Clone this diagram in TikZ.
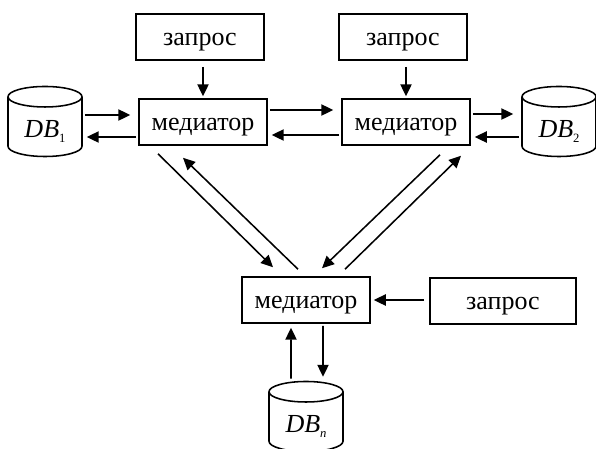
\documentclass[tikz,border=0pt]{standalone}
\usepackage{fontspec}
\setmainfont{Liberation Serif}
\usetikzlibrary{arrows.meta,shapes.geometric,calc}
\newcommand{\dbname}[1]{\textit{DB}\raisebox{-0.45ex}{\fontsize{9}{9}\selectfont #1}}

\begin{document}
\begin{tikzpicture}
  [x=0.025cm,y=-0.025cm,line width=1.1pt,>={Triangle[length=8.5pt,width=8pt]},
   every node/.style={font=\fontsize{18.5}{20}\selectfont,line width=1.1pt},
   box/.style={draw,rectangle,minimum width=3.2cm,minimum height=1.15cm,inner sep=0pt,text height=11.4pt,text depth=0pt},
   db/.style={draw,cylinder,shape border rotate=90,aspect=0.5,minimum width=1.85cm,minimum height=1.75cm,inner sep=0pt,text height=15pt,text depth=0pt}]
  \useasboundingbox (0,0) rectangle (596,448);
  \node[box] (q1) at (200,37) {запрос};
  \node[box] (q2) at (403,37) {запрос};
  \node[box] (m1) at (203,122) {медиатор};
  \node[box] (m2) at (406,122) {медиатор};
  \node[box] (m3) at (306,300) {медиатор};
  \node[box,minimum width=3.65cm] (q3) at (503,301) {запрос};
  \node[db] (db1) at (45,127) {\dbname{1}};
  \node[db] (db2) at (559,127) {\dbname{2}};
  \node[db] (dbn) at (306,422) {\dbname{\textit{n}}};

  \foreach \from/\to in {q1/m1,q2/m2}
    \draw[->] ($(\to.north |- \from.south)+(0,6)$) -- ($(\to.north)+(0,-2)$);

  \foreach \from/\to/\y in {db1/m1/115,m1/m2/110,m2/db2/114}
    \draw[->] (\from.east |- 0,\y) ++(2,0) -- ($(\to.west |- 0,\y)+(-8,0)$);
  \foreach \from/\to/\y in {m1/db1/137,m2/m1/135,db2/m2/137}
    \draw[->] (\from.west |- 0,\y) ++(-2,0) -- ($(\to.east |- 0,\y)+(4,0)$);

  \draw[->] ($(m1.south)+(-45,8)$) -- ($(m3.north)+(-33,-9)$);
  \draw[->] ($(m3.north)+(-8,-7)$) -- ($(m1.south)+(-20,12)$);
  \draw[->] ($(m2.south)+(34,9)$) -- ($(m3.north)+(16,-8)$);
  \draw[->] ($(m3.north)+(39,-7)$) -- ($(m2.south)+(55,10)$);

  \draw[->] ($(q3.west |- m3.east)+(-5,0)$) -- ($(m3.east)+(3,0)$);
  \draw[->] ($(dbn.north)+(-15,-2)$) -- ($(m3.south)+(-15,4)$);
  \draw[->] ($(m3.south)+(17,2)$) -- ($(dbn.north)+(17,-4)$);
\end{tikzpicture}
\end{document}
